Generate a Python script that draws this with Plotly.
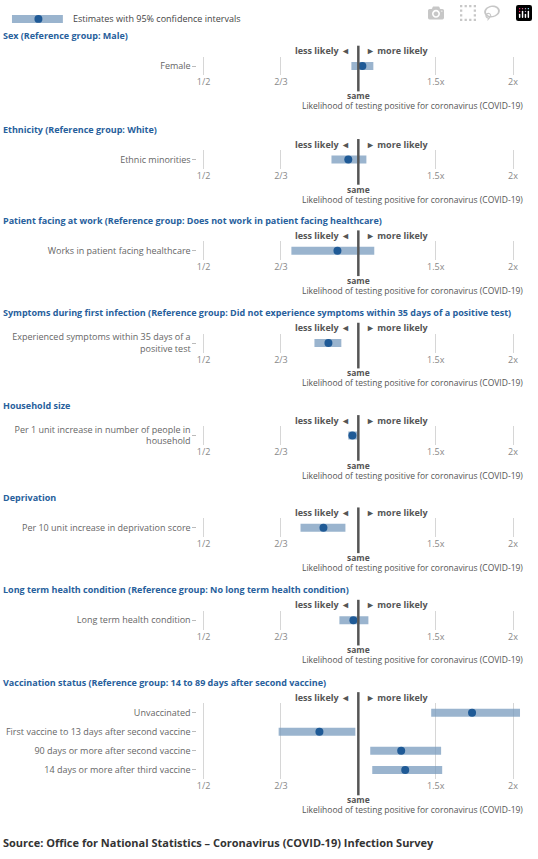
import plotly.graph_objects as go

W, H = 538, 859
panel_titles = [
    "Sex (Reference group: Male)",
    "Ethnicity (Reference group: White)",
    "Patient facing at work (Reference group: Does not work in patient facing healthcare)",
    "Symptoms during first infection (Reference group: Did not experience symptoms within 35 days of a positive test)",
    "Household size",
    "Deprivation",
    "Long term health condition (Reference group: No long term health condition)",
    "Vaccination status (Reference group: 14 to 89 days after second vaccine)",
]
panel_labels = [
    ["Female"],
    ["Ethnic minorities"],
    ["Works in patient facing healthcare"],
    ["Experienced symptoms within 35 days of a<br>positive test"],
    ["Per 1 unit increase in number of people in<br>household"],
    ["Per 10 unit increase in deprivation score"],
    ["Long term health condition"],
    ["Unvaccinated", "First vaccine to 13 days after second vaccine",
     "90 days or more after second vaccine", "14 days or more after third vaccine"],
]
estimates = [[1.026], [0.939], [0.881], [0.838], [0.963], [0.816], [0.969],
             [1.735, 0.799, 1.277, 1.303]]
lower = [[0.957], [0.852], [0.698], [0.779], [0.939], [0.728], [0.891],
         [1.471, 0.660, 1.077, 1.090]]
upper = [[1.097], [1.052], [1.103], [0.901], [0.994], [0.923], [1.065],
         [2.045, 0.981, 1.535, 1.542]]
panel_tops = [33, 127, 219, 312, 405, 498, 591, 684]
tick_vals = [0.5, 2/3, 1.5, 2]
tick_text = ["1/2", "2/3", "1.5x", "2x"]

def t(r):
    return r - 1 if r >= 1 else 1 - 1 / r

XR = [-1.04, 1.06]
x0px, x1px = 203 - 0.04 * 155, 513 + 0.06 * 155
xdom = [x0px / W, x1px / W]
def py(p):
    return 1 - p / H

BAR = "rgba(120,155,190,0.75)"
DOT = "#1f5a96"
TITLE = "#27609c"
fig = go.Figure()
layout = dict(width=W, height=H, margin=dict(l=0, r=0, t=0, b=0),
              plot_bgcolor="white", paper_bgcolor="white", showlegend=False,
              font=dict(family="Open Sans", size=9, color="#555"))
shapes, annots = [], []
sp = 19.3
for i, top in enumerate(panel_tops):
    n = len(panel_labels[i])
    k = "" if i == 0 else str(i + 1)
    gtop = top + 21
    row0 = top + 30
    gbot = row0 + (n - 1) * sp + 10
    xs, ys = [], []
    for j in range(n):
        xs += [t(lower[i][j]), t(upper[i][j]), None]
        ys += [panel_labels[i][j]] * 2 + [None]
    fig.add_trace(go.Scatter(x=xs, y=ys, mode="lines", line=dict(color=BAR, width=8),
                             xaxis="x" + k, yaxis="y" + k, hoverinfo="skip"))
    fig.add_trace(go.Scatter(x=[t(v) for v in estimates[i]], y=panel_labels[i], mode="markers",
                             marker=dict(color=DOT, size=8), xaxis="x" + k, yaxis="y" + k))
    layout["xaxis" + k] = dict(domain=xdom, range=XR, anchor="y" + k,
                               tickvals=[t(v) for v in tick_vals], ticktext=tick_text,
                               showgrid=True, gridcolor="#d6d6d6", zeroline=False,
                               showline=False, ticks="", tickfont=dict(color="#888", size=9),
                               fixedrange=True)
    layout["yaxis" + k] = dict(domain=[py(gbot), py(gtop)], anchor="x" + k,
                               type="category", categoryorder="array",
                               categoryarray=panel_labels[i],
                               range=[n - 0.5, -0.5], showgrid=False, zeroline=False,
                               ticks="outside", ticklen=4, tickcolor="#bbb",
                               tickfont=dict(color="#666", size=9), fixedrange=True)
    shapes.append(dict(type="line", xref="x" + k, yref="paper", x0=0, x1=0,
                       y0=py(top + 10), y1=py(gbot + 16), line=dict(color="#555", width=2.5)))
    annots += [
        dict(text="<b>" + panel_titles[i] + "</b>", x=0, y=py(top), xref="paper", yref="paper",
             xanchor="left", yanchor="middle", showarrow=False, font=dict(color=TITLE, size=9)),
        dict(text="<b>less likely ◄</b>", x=352 / W, y=py(top + 15), xref="paper", yref="paper",
             xanchor="right", yanchor="middle", showarrow=False, font=dict(color="#555", size=9)),
        dict(text="<b>► more likely</b>", x=364 / W, y=py(top + 15), xref="paper", yref="paper",
             xanchor="left", yanchor="middle", showarrow=False, font=dict(color="#555", size=9)),
        dict(text="<b>same</b>", x=358 / W, y=py(gbot + 20.5), xref="paper", yref="paper",
             xanchor="center", yanchor="middle", showarrow=False, font=dict(color="#555", size=8.5)),
        dict(text="Likelihood of testing positive for coronavirus (COVID-19)", x=525 / W,
             y=py(gbot + 30.5), xref="paper", yref="paper", xanchor="right", yanchor="middle",
             showarrow=False, font=dict(color="#555", size=8.5)),
    ]

shapes.append(dict(type="line", xref="paper", yref="paper", x0=11 / W, x1=62 / W,
                   y0=py(16), y1=py(16), line=dict(color=BAR, width=8)))
shapes.append(dict(type="circle", xref="paper", yref="paper", x0=33.5 / W, x1=41.5 / W,
                   y0=py(20), y1=py(12), fillcolor=DOT, line=dict(width=0)))
annots.append(dict(text="Estimates with 95% confidence intervals", x=70 / W, y=py(16),
                   xref="paper", yref="paper", xanchor="left", yanchor="middle",
                   showarrow=False, font=dict(color="#444", size=9)))
annots.append(dict(text="<b>Source: Office for National Statistics – Coronavirus (COVID-19) Infection Survey</b>",
                   x=0, y=py(845), xref="paper", yref="paper", xanchor="left", yanchor="middle",
                   showarrow=False, font=dict(color="#333", size=11)))
layout["shapes"] = shapes
layout["annotations"] = annots
fig.update_layout(**layout)
fig.write_html("out.html")

with open("out.html", encoding="utf-8") as f:
    html = f.read()
html = html.replace("<head>", "<head><style>html,body{margin:0;padding:0;overflow:hidden;}</style>", 1)
with open("out.html", "w", encoding="utf-8") as f:
    f.write(html)
